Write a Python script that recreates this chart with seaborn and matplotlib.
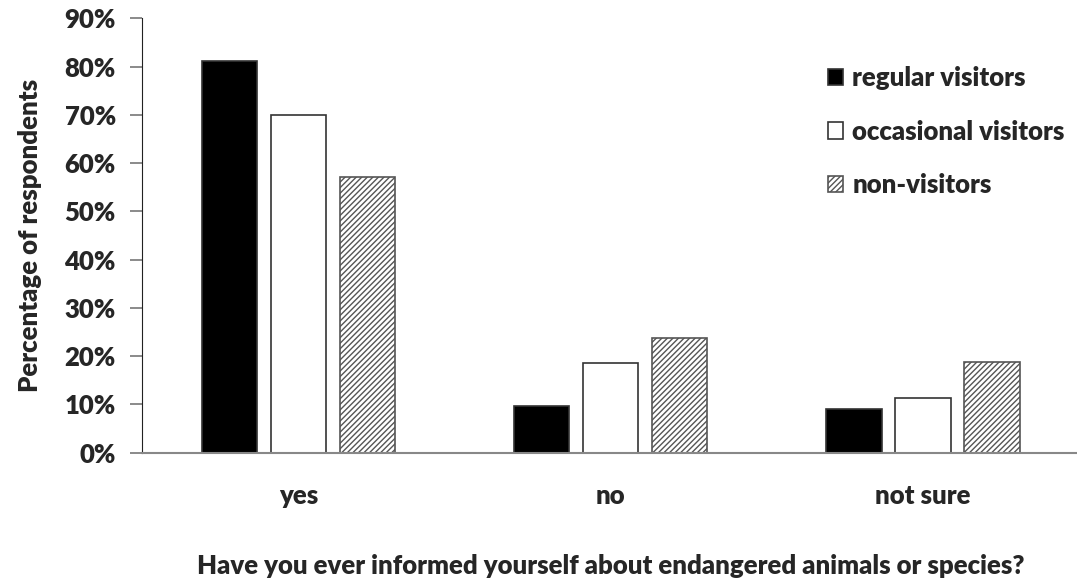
import pandas as pd
import seaborn as sns
import matplotlib.pyplot as plt
from matplotlib.ticker import FuncFormatter

# values (percent)
answers = ['yes', 'no', 'not sure']
groups = ['regular visitors', 'occasional visitors', 'non-visitors']
regular = [81.2, 9.6, 9.0]
occasional = [70.0, 18.5, 11.4]
non_visitors = [57.2, 23.7, 18.7]

df = pd.DataFrame({
    'answer': answers * 3,
    'group': [g for g in groups for _ in answers],
    'pct': regular + occasional + non_visitors,
})

sns.set_style('white')
plt.rcParams['font.family'] = ['Lato', 'DejaVu Sans']
plt.rcParams['font.weight'] = 'heavy'
fs = 18.5

fig = plt.figure(figsize=(10.77, 5.8), dpi=100)
ax = fig.add_axes([0.132, 0.2195, 0.87, 0.749])

sns.barplot(data=df, x='answer', y='pct', hue='group', order=answers, hue_order=groups,
            palette=['black', 'white', 'white'], width=0.663, gap=0.2,
            edgecolor='#333333', linewidth=1.2, ax=ax, legend=False)

# hatch the non-visitors bars
for bar in ax.containers[2]:
    bar.set_hatch('//////')
    bar.set_edgecolor('#555555')

ax.set_xlim(-0.5, 2.5)
ax.set_ylim(0, 90)
ax.set_yticks(range(0, 91, 10))
ax.yaxis.set_major_formatter(FuncFormatter(lambda v, p: f'{v:.0f}%'))

for s in ['top', 'right']:
    ax.spines[s].set_visible(False)
ax.spines['left'].set_color('#222222')
ax.spines['bottom'].set_color('#888888')
ax.spines['bottom'].set_linewidth(1.5)
ax.tick_params(axis='y', left=True, length=9, width=1.2, color='#777777',
               labelsize=fs, pad=10)
ax.tick_params(axis='x', bottom=False, labelsize=fs, pad=19)

ax.set_ylabel('Percentage of respondents', fontsize=fs, fontweight='heavy',
              ha='center', va='center')
ax.yaxis.set_label_coords(-0.12, 0.5)
ax.set_xlabel('Have you ever informed yourself about endangered animals or species?',
              fontsize=fs, fontweight='heavy', ha='center', va='center')
ax.xaxis.set_label_coords(0.5, -0.26)

ax.legend(ax.containers, groups, loc='upper left', bbox_to_anchor=(0.732, 0.89),
          borderaxespad=0, borderpad=0, frameon=False, fontsize=fs,
          handlelength=0.6, handleheight=0.6, handletextpad=0.35, labelspacing=1.15)

fig.savefig('out.png', dpi=100)
